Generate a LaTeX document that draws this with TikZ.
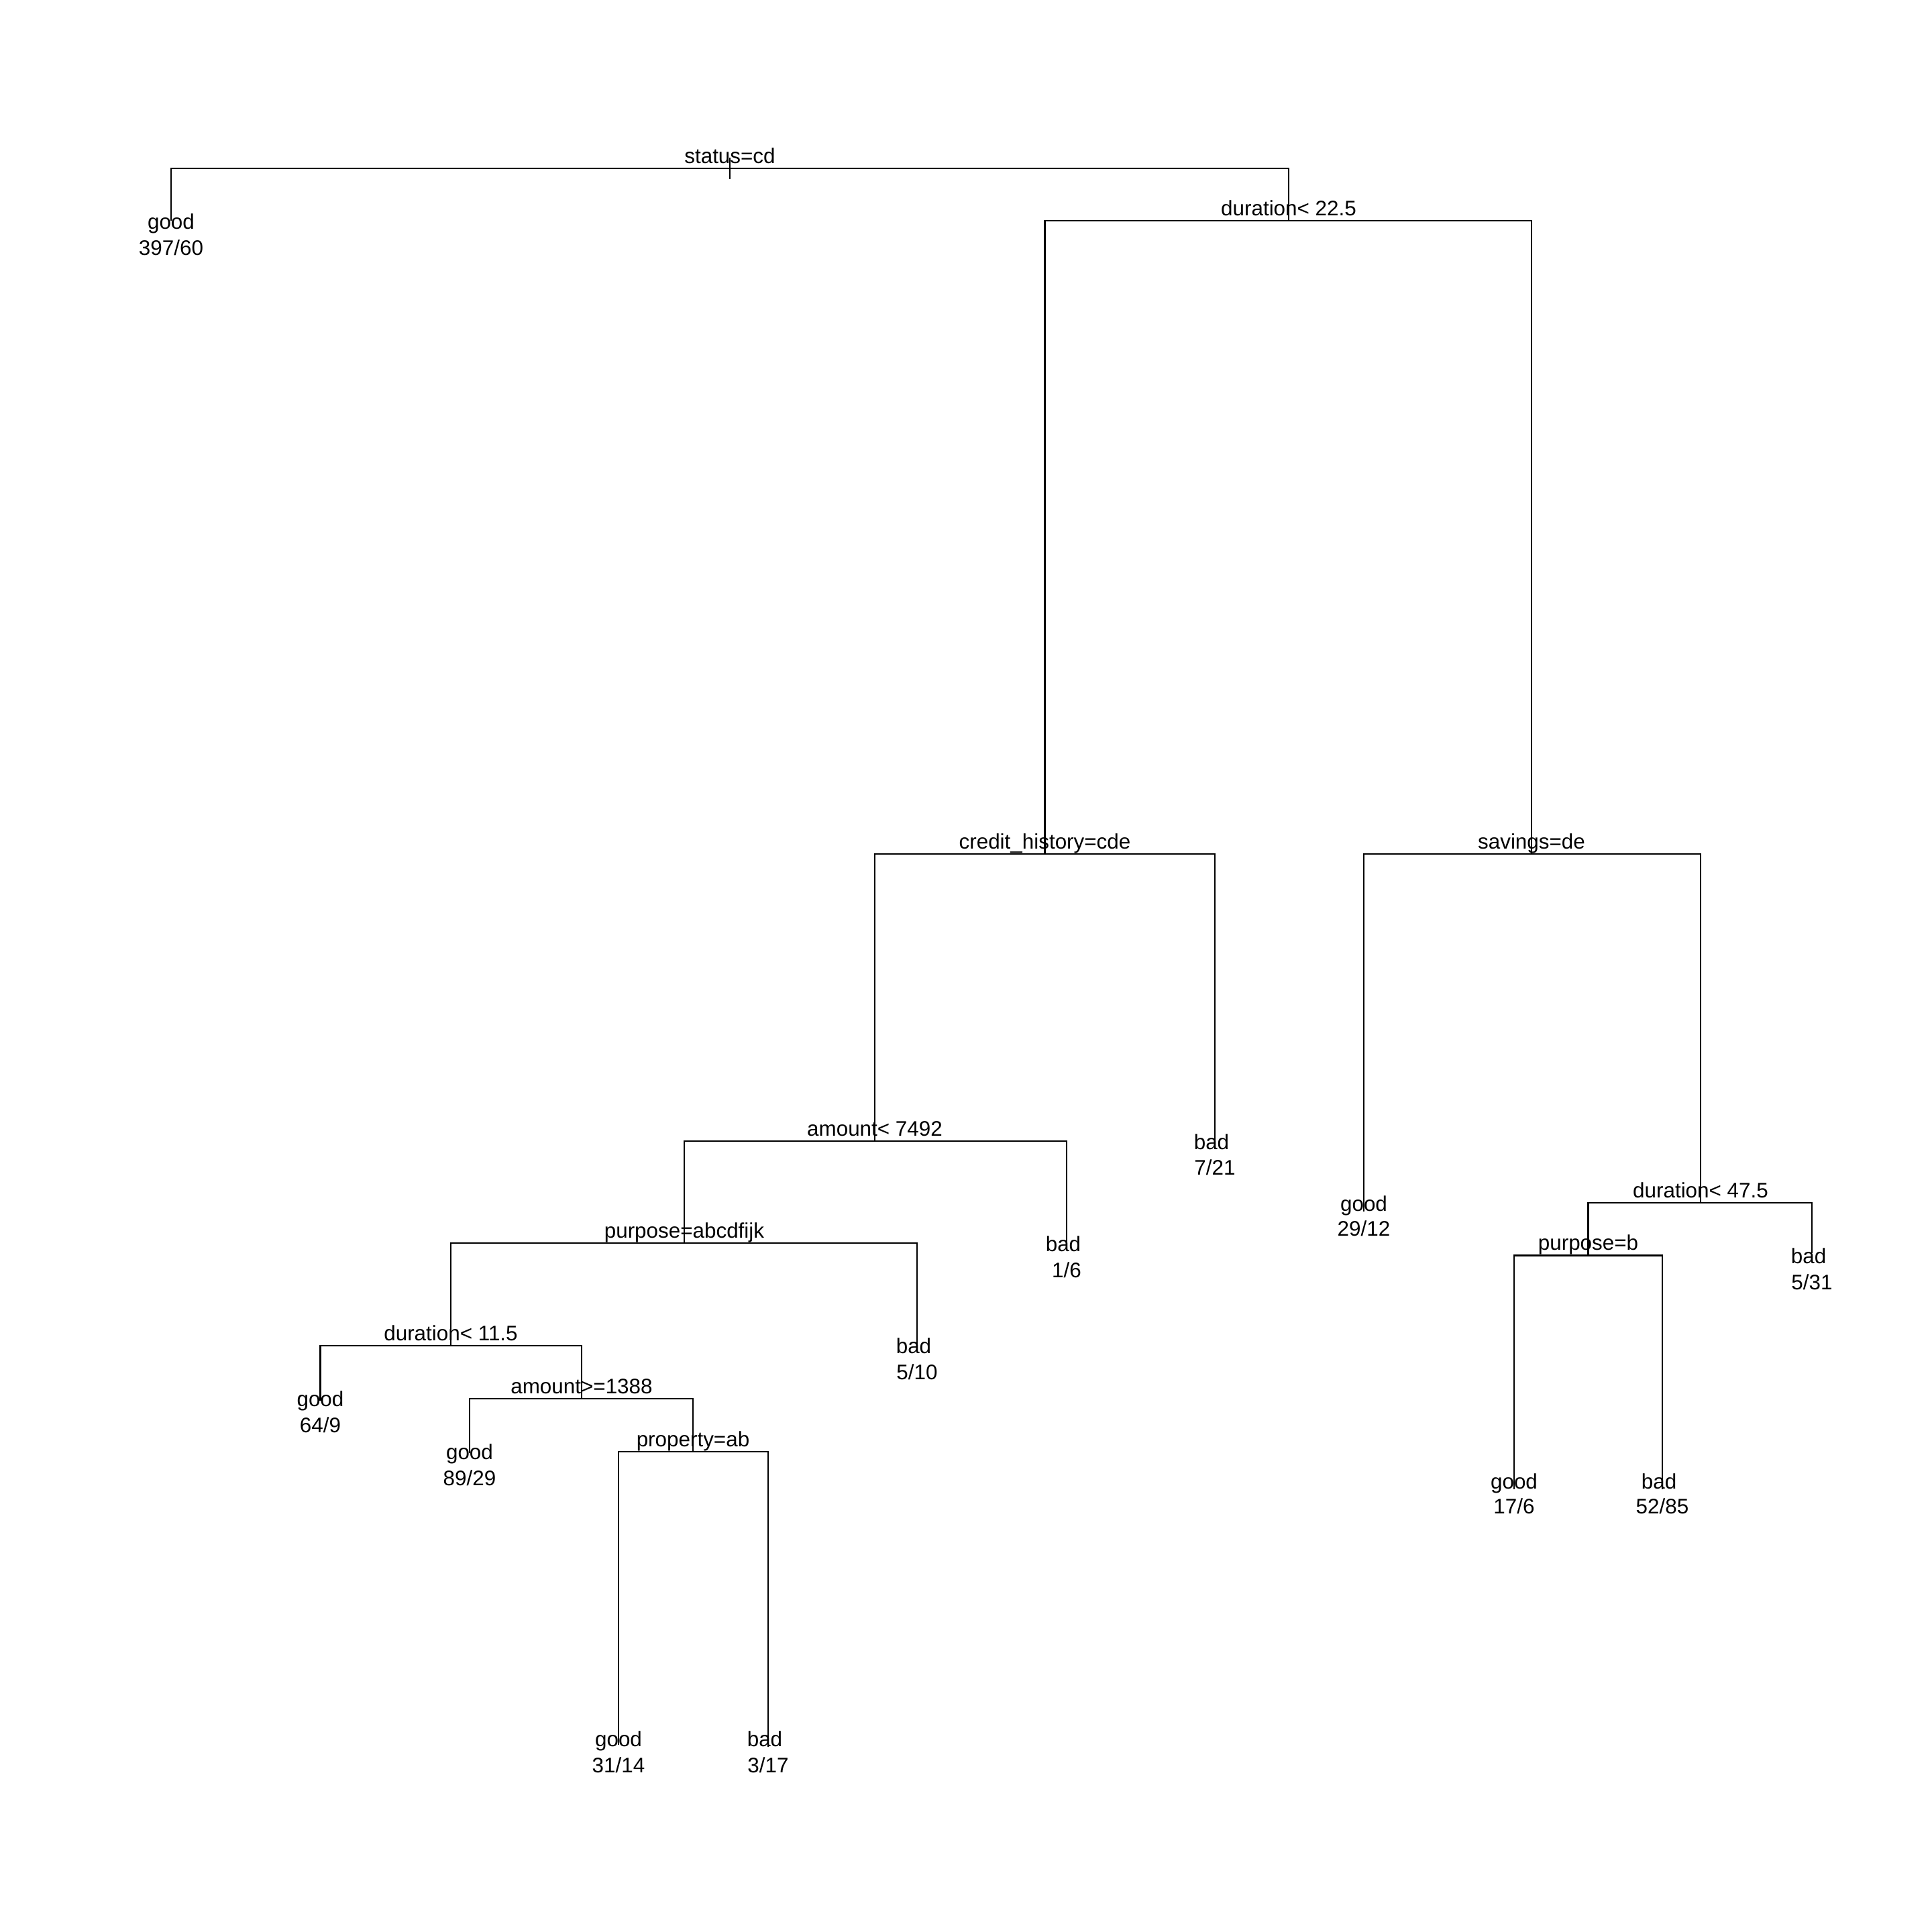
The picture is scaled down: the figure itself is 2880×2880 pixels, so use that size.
\documentclass[tikz,border=0pt]{standalone}
\usepackage{fontspec}
\setmainfont{Liberation Sans}
\begin{document}
\begin{tikzpicture}[x=0.25pt,y=-0.25pt,
  edge/.style={line width=0.55pt,line cap=rect},
  splitlab/.style={anchor=base,inner sep=0pt,font=\fontsize{7.85}{9.6}\selectfont},
  leaflab/.style={anchor=base,inner sep=0pt,font=\fontsize{7.85}{9.6}\selectfont},
  badlab/.style={leaflab,xshift=-1.25pt}]
\useasboundingbox[fill=white] (0,0) rectangle (2880,2880);

% split points (x, height of the bar)
\coordinate (root) at (1088,251);
\coordinate (d225) at (1921,329);
\coordinate (ch)   at (1557.5,1273);
\coordinate (sav)  at (2283,1273);
\coordinate (am)   at (1304,1701);
\coordinate (pu)   at (1020,1853);
\coordinate (d115) at (672,2006);
\coordinate (am2)  at (867,2085);
\coordinate (pr)   at (1033,2164);
\coordinate (d475) at (2535,1793);
\coordinate (pub)  at (2367.5,1871.5);

% leaf ends
\coordinate (L1)  at (255,328);
\coordinate (L2)  at (1811,1712);
\coordinate (L3)  at (1590,1860);
\coordinate (L4)  at (1367,2012);
\coordinate (L5)  at (477.5,2087);
\coordinate (L6)  at (700,2165);
\coordinate (L7)  at (922,2600);
\coordinate (L8)  at (1145,2603);
\coordinate (L9)  at (2033,1805);
\coordinate (L10) at (2701,1867);
\coordinate (L11) at (2257,2219);
\coordinate (L12) at (2478,2219);

% branches
\draw[edge] (root) ++(0,-14.5) -- ++(0,29);
\draw[edge] (root) -| (L1);
\draw[edge] (root) -| (d225);
\draw[edge] (d225) -| (ch);
\draw[edge] (d225) -| (sav);
\draw[edge] (ch) -| (am);
\draw[edge] (ch) -| (L2);
\draw[edge] (am) -| (pu);
\draw[edge] (am) -| (L3);
\draw[edge] (pu) -| (d115);
\draw[edge] (pu) -| (L4);
\draw[edge] (d115) -| (L5);
\draw[edge] (d115) -| (am2);
\draw[edge] (am2) -| (L6);
\draw[edge] (am2) -| (pr);
\draw[edge] (pr) -| (L7);
\draw[edge] (pr) -| (L8);
\draw[edge] (sav) -| (L9);
\draw[edge] (sav) -| (d475);
\draw[edge] (d475) -| (pub);
\draw[edge] (d475) -| (L10);
\draw[edge] (pub) -| (L11);
\draw[edge] (pub) -| (L12);

% split labels
\node[splitlab] (troot) at (1088,243.3) {status=cd};
\node[splitlab] (td225) at (1921,321) {duration< 22.5};
\node[splitlab] (tch)   at (1557.5,1265) {credit\_history=cde};
\node[splitlab] (tsav)  at (2283,1265) {savings=de};
\node[splitlab] (tam)   at (1304,1693) {amount< 7492};
\node[splitlab] (tpu)   at (1020,1845) {purpose=abcdfijk};
\node[splitlab] (td115) at (672,1998) {duration< 11.5};
\node[splitlab] (tam2)  at (867,2077) {amount>=1388};
\node[splitlab] (tpr)   at (1033,2156) {property=ab};
\node[splitlab] (td475) at (2535,1785) {duration< 47.5};
\node[splitlab] (tpub)  at (2367.5,1863.5) {purpose=b};

% leaf labels: class, then counts
\node[leaflab] (c1)  at (255,341.7) {good};   \node[leaflab] (n1)  at (255,380) {397/60};
\node[badlab]  (c2)  at (1811,1713.3) {bad};  \node[leaflab] (n2)  at (1811,1751.7) {7/21};
\node[badlab]  (c3)  at (1590,1865) {bad};    \node[leaflab] (n3)  at (1590,1904) {1/6};
\node[badlab]  (c4)  at (1367,2017.5) {bad};  \node[leaflab] (n4)  at (1367,2056) {5/10};
\node[leaflab] (c5)  at (477.5,2096.7) {good};\node[leaflab] (n5)  at (477.5,2135) {64/9};
\node[leaflab] (c6)  at (700,2175.5) {good};  \node[leaflab] (n6)  at (700,2214) {89/29};
\node[leaflab] (c7)  at (922,2603) {good};    \node[leaflab] (n7)  at (922,2642) {31/14};
\node[badlab]  (c8)  at (1145,2603) {bad};    \node[leaflab] (n8)  at (1145,2642) {3/17};
\node[leaflab] (c9)  at (2033,1805) {good};   \node[leaflab] (n9)  at (2033,1842) {29/12};
\node[badlab]  (c10) at (2701,1883.3) {bad};  \node[leaflab] (n10) at (2701,1922) {5/31};
\node[leaflab] (c11) at (2257,2219) {good};   \node[leaflab] (n11) at (2257,2256) {17/6};
\node[badlab]  (c12) at (2478,2219) {bad};    \node[leaflab] (n12) at (2478,2256) {52/85};
\end{tikzpicture}
\end{document}
